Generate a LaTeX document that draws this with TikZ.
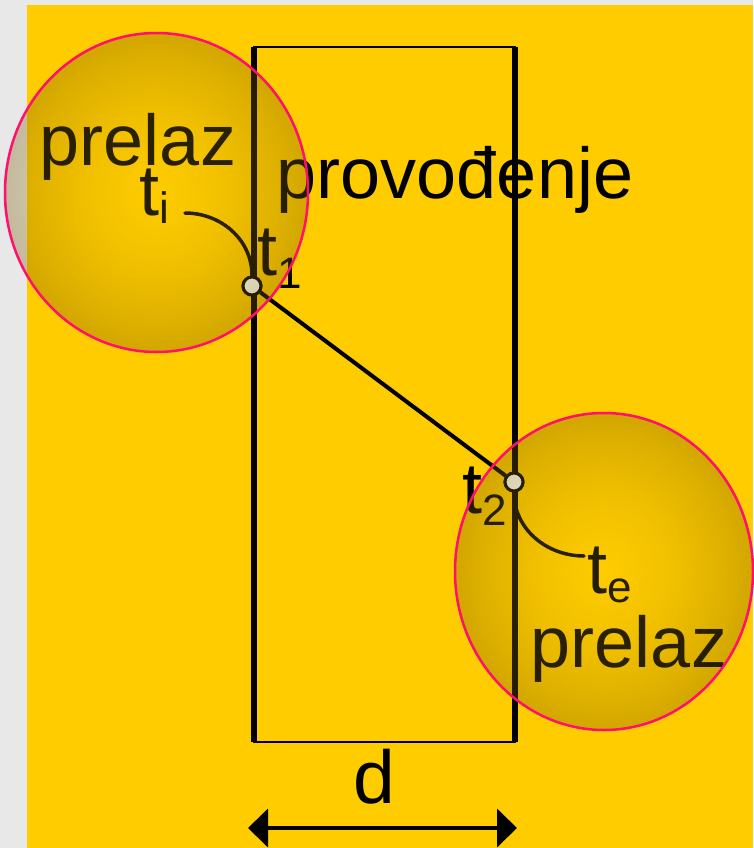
\documentclass[tikz,border=0pt]{standalone}
\usepackage{fontspec}
\setmainfont{Liberation Sans}
\usepackage{xcolor}
\usepackage{tikz}
\usetikzlibrary{positioning, arrows.meta, fadings}
\definecolor{sheet}{HTML}{E8E8E8}
\definecolor{amber}{HTML}{FFCC00}
\definecolor{umber}{HTML}{745700}
\definecolor{rim}{HTML}{FF0F6E}
\newcommand{\tlabel}[2]{t\raisebox{-#1}{\fontsize{44}{44}\selectfont #2}}
\tikzfading[name=lensfade, inner color=transparent!86, outer color=transparent!68]

\begin{document}
\begin{tikzpicture}[x=1pt, y=-1pt,
    big/.style={font=\fontsize{72}{80}\selectfont, inner sep=0pt},
    thinwall/.style={line width=2pt},
    thickwall/.style={line width=6.5pt},
    wire/.style={line width=4pt},
    leader/.style={line width=3.5pt, line cap=round},
    junction/.style={circle, draw, fill=white, line width=3pt, inner sep=0pt, minimum size=18pt},
    lens/.style={inner color=amber, outer color=umber, path fading=lensfade},
    lensrim/.style={draw=rim, line width=2.5pt}]
      \useasboundingbox (0,0) rectangle (753,848);
      \fill[sheet] (0,0) rectangle (753,848);
      \fill[amber] (27,5) rectangle (753,848);
      % wall
      \coordinate (wallNW) at (254,47);
      \coordinate (wallSE) at (515,742);
      \draw[thinwall] (wallNW) rectangle (wallSE);
      \draw[thickwall] (wallNW) -- (wallNW |- wallSE);
      \draw[thickwall] (wallNW -| wallSE) -- (wallSE);
      % temperature line
      \node[junction] (t1) at (252,286) {};
      \node[junction] (t2) at (514,482) {};
      \draw[wire] (t1) -- (t2);
      \node[junction] at (t1) {};
      \node[junction] at (t2) {};
      \coordinate (tistart) at (185,213);
      \coordinate (teend) at (584,556);
      \draw[leader] (tistart) to[out=0, in=90] (t1.north);
      \draw[leader] (t2.south) to[out=-90, in=180] (teend);
      % labels
      \node[big, anchor=base] (prelazL) at (138,165) {prelaz};
      \node[big, anchor=base] (provod) at (455,198) {provođenje};
      \node[big, anchor=base] (prelazR) at (629,667) {prelaz};
      \node[big, anchor=base west] (ti) at (139,215) {\tlabel{8pt}{i}};
      \node[big, anchor=base west] (tone) at (257,275) {\tlabel{13pt}{1}};
      \node[big, anchor=base west] (ttwo) at (462,513) {\tlabel{12pt}{2}};
      \node[big, anchor=base west] (te) at (587,593) {\tlabel{9pt}{e}};
      \node[big, anchor=base, font=\fontsize{75}{80}\selectfont] (thick) at (374,803) {d};
      \coordinate (dL) at (248,828);
      \coordinate (dR) at (517,828);
      \draw[wire, {Triangle[length=20pt, width=38pt]}-{Triangle[length=20pt, width=38pt]}] (dL) -- (dR);
      % boundary layers
      \shade[lens] (156.5,192.5) ellipse [x radius=151.5, y radius=159.5];
      \shade[lens] (604,571.5) ellipse [x radius=149, y radius=158.5];
      \draw[lensrim] (156.5,192.5) ellipse [x radius=151.5, y radius=159.5];
      \draw[lensrim] (604,571.5) ellipse [x radius=149, y radius=158.5];
    \end{tikzpicture}
\end{document}
